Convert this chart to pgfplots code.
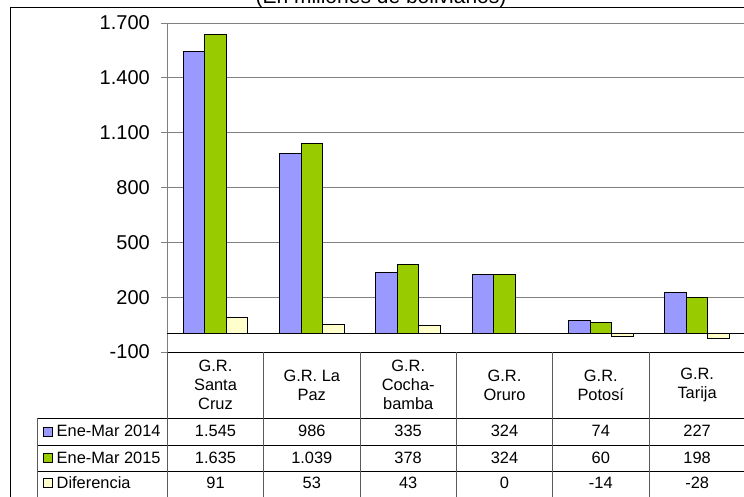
\documentclass[border=0pt]{standalone}
\usepackage{fontspec}
\setmainfont{Liberation Sans}
\usepackage{pgfplots}
\usepackage{pgfplotstable}
\pgfplotsset{compat=1.18}
\definecolor{c14}{RGB}{153,153,255}
\definecolor{c15}{RGB}{153,204,0}
\definecolor{cdif}{RGB}{255,255,204}
\definecolor{gridc}{RGB}{128,128,128}

\pgfplotstableread{
x a b d
0 1545 1635 91
1 986 1039 53
2 335 378 43
3 324 324 0
4 74 60 -14
5 227 198 -28
}\datatab

\begin{document}
\begin{tikzpicture}
\useasboundingbox (0pt,0pt) rectangle (744pt,497pt);
% outer frame
\draw[black, line width=0.9pt] (10.7pt,-20pt) -- (10.7pt,489.7pt) -- (800pt,489.7pt);
% title (cut at top, as in the reference)
\node[anchor=base, font=\fontsize{21}{25}\selectfont, inner sep=0pt] at (381pt,493.5pt) {(En millones de bolivianos)};

\begin{axis}[
  at={(167.3pt,145pt)}, anchor=south west,
  scale only axis, width=578pt, height=329pt,
  xmin=-0.5, xmax=5.5, ymin=-100, ymax=1700,
  ytick={-100,200,...,1700},
  xtick=\empty,
  ybar=0pt, bar width=21.5pt,
  axis x line=none, axis y line*=left,
  axis line style={gridc, line width=0.9pt},
  ymajorgrids, grid style={gridc, line width=0.9pt},
  tick align=outside, major tick length=6pt,
  ytick style={gridc, line width=0.9pt},
  yticklabel style={font=\fontsize{20}{24}\selectfont, xshift=-8pt},
  /pgf/number format/1000 sep={.},
  /pgf/number format/assume math mode=true,
  clip=false,
]
\draw[black, line width=0.9pt] (axis cs:-0.5,0) -- (axis cs:5.5,0);
\addplot[fill=c14, draw=black, line width=0.9pt] table[x=x,y=a]{\datatab};
\addplot[fill=c15, draw=black, line width=0.9pt] table[x=x,y=b]{\datatab};
\addplot[fill=cdif, draw=black, line width=0.9pt] table[x=x,y=d]{\datatab};
\end{axis}

% data table lines
\draw[black, line width=0.9pt] (167.3pt,145pt) -- (760pt,145pt);
\foreach \yy in {78.7,52,26} {
  \draw[black, line width=0.9pt] (37pt,\yy pt) -- (760pt,\yy pt);
}
\draw[gridc!70!black, line width=0.9pt] (37pt,78.7pt) -- (37pt,-5pt);
\foreach \xx in {167.3,263.6,360,456.3,552.6,649} {
  \draw[gridc!70!black, line width=0.9pt] (\xx pt,145pt) -- (\xx pt,-5pt);
}

% category labels
\begin{scope}[every node/.style={font=\fontsize{16.4}{19}\selectfont, align=center, inner sep=0pt}]
\node at (215.5pt,112pt) {G.R.\\Santa\\Cruz};
\node at (311.8pt,112pt) {G.R. La\\Paz};
\node at (408.2pt,112pt) {G.R.\\Cocha-\\bamba};
\node at (504.5pt,112pt) {G.R.\\Oruro};
\node at (600.8pt,112pt) {G.R.\\Potosí};
\node at (697.1pt,112pt) {G.R.\\Tarija};
\end{scope}

% values
\begin{scope}[every node/.style={font=\fontsize{16.4}{19}\selectfont, inner sep=0pt}]
\foreach \v [count=\i from 0] in {1.545,986,335,324,74,227} {
  \node at (215.5pt+\i*96.33pt,66pt) {\v};
}
\foreach \v [count=\i from 0] in {1.635,1.039,378,324,60,198} {
  \node at (215.5pt+\i*96.33pt,39.5pt) {\v};
}
\foreach \v [count=\i from 0] in {91,53,43,0,-14,-28} {
  \node at (215.5pt+\i*96.33pt,14pt) {\v};
}
% legend keys
\draw[black, line width=0.9pt, fill=c14] (43.5pt,61pt) rectangle (52.5pt,70pt);
\node[anchor=west] at (56.5pt,66pt) {Ene-Mar 2014};
\draw[black, line width=0.9pt, fill=c15] (43.5pt,34.5pt) rectangle (52.5pt,43.5pt);
\node[anchor=west] at (56.5pt,39.5pt) {Ene-Mar 2015};
\draw[black, line width=0.9pt, fill=cdif] (43.5pt,9.5pt) rectangle (52.5pt,18.5pt);
\node[anchor=west] at (56.5pt,14pt) {Diferencia};
\end{scope}
\end{tikzpicture}
\end{document}
